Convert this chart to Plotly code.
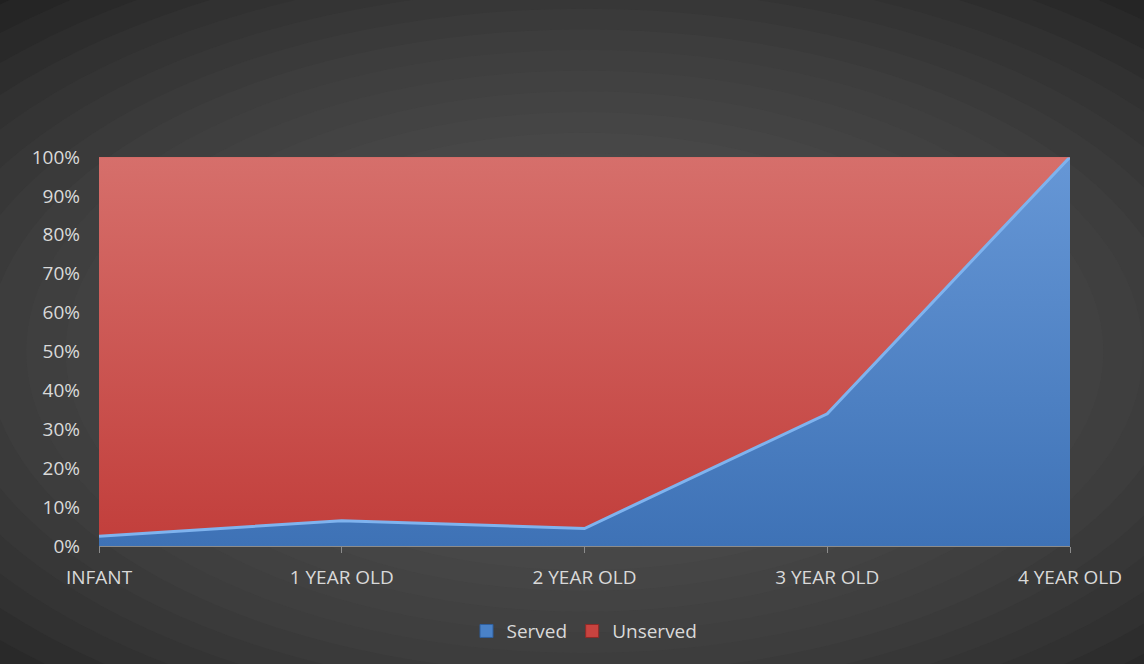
import plotly.graph_objects as go

categories = ["INFANT", "1 YEAR OLD", "2 YEAR OLD", "3 YEAR OLD", "4 YEAR OLD"]
served = [2.5, 6.5, 4.5, 34.0, 100.0]
unserved = [97.5, 93.5, 95.5, 66.0, 0.0]
y_ticks = [0, 10, 20, 30, 40, 50, 60, 70, 80, 90, 100]
y_tick_labels = [f"{v}%" for v in y_ticks]

fig = go.Figure()
fig.add_trace(go.Scatter(
    x=categories, y=served, name="Served", mode="lines", stackgroup="one",
    line=dict(color="#7fb3ee", width=3),
    fillgradient=dict(type="vertical", colorscale=[[0, "#3e72b6"], [1, "#6697d6"]]),
    hoverinfo="skip", showlegend=False,
))
fig.add_trace(go.Scatter(
    x=categories, y=unserved, name="Unserved", mode="lines", stackgroup="one",
    line=dict(color="#d06864", width=1),
    fillgradient=dict(type="vertical", colorscale=[[0, "#c23f3c"], [1, "#d66f6b"]]),
    hoverinfo="skip", showlegend=False,
))
# legend entries with square swatches
fig.add_trace(go.Scatter(x=[None], y=[None], mode="markers", name="Served",
                         marker=dict(symbol="square", size=13, color="#4a82c8",
                                     line=dict(color="#2f5f9e", width=1))))
fig.add_trace(go.Scatter(x=[None], y=[None], mode="markers", name="Unserved",
                         marker=dict(symbol="square", size=13, color="#c8433f",
                                     line=dict(color="#8e2a28", width=1))))

# radial-ish background glow
shapes = []
n = 16
for i in range(n):
    f = i / n
    shapes.append(dict(
        type="circle", xref="paper", yref="paper", layer="below",
        x0=-0.4 + 0.65 * f, x1=1.4 - 0.65 * f, y0=-0.7 + 0.85 * f, y1=1.7 - 0.85 * f,
        fillcolor="rgba(88,88,88,0.085)", line=dict(width=0),
    ))

fig.update_layout(
    width=1144, height=664,
    margin=dict(l=99, r=74, t=157, b=118),
    paper_bgcolor="#202020", plot_bgcolor="rgba(0,0,0,0)",
    font=dict(family="Open Sans, Lato, sans-serif", color="#d9d9d9", size=19),
    shapes=shapes,
    showlegend=True,
    legend=dict(orientation="h", x=0.5, xanchor="center", y=-0.17, yanchor="top",
                traceorder="normal", itemsizing="trace",
                font=dict(size=19, color="#d9d9d9"), bgcolor="rgba(0,0,0,0)"),
    xaxis=dict(type="category", range=[0, 4], showgrid=False, zeroline=False,
               showline=True, linecolor="#8c8c8c", linewidth=1,
               ticks="outside", ticklen=6, tickcolor="#8c8c8c",
               ticklabelstandoff=8,
               tickfont=dict(size=19, color="#d9d9d9")),
    yaxis=dict(range=[0, 100], tickvals=y_ticks, ticktext=y_tick_labels,
               showgrid=False, zeroline=False, showline=False, ticks="",
               ticklabelstandoff=18,
               tickfont=dict(size=19, color="#d9d9d9")),
)

fig.write_html("out.html", config={"displayModeBar": False},
               post_script="document.body.style.margin='0';")
